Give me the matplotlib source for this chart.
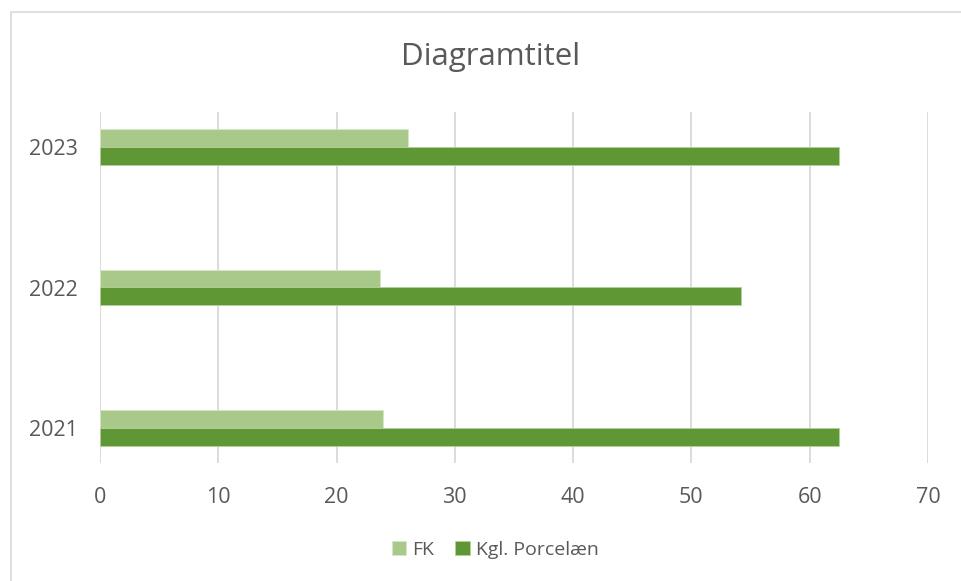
import matplotlib.pyplot as plt
import matplotlib.patches as mpatches
import numpy as np

# data
aar = ["2021", "2022", "2023"]
fk = [23.9, 23.7, 26.0]
kgl = [62.5, 54.2, 62.5]
x_ticks = [0, 10, 20, 30, 40, 50, 60, 70]

lys_groen = "#A9C98B"
moerk_groen = "#5E9733"
tekst_farve = "#595959"

plt.rcParams['font.family'] = ['Open Sans', 'DejaVu Sans']

fig = plt.figure(figsize=(9.62, 5.81), dpi=100)
W, H = 962, 581

# ramme rundt om diagrammet (kun venstre og top synlig)
fig.patches.append(mpatches.Rectangle((11 / W, -0.2), 1.2, 1.2 - 12 / H, transform=fig.transFigure,
                                      fill=False, edgecolor="#D9D9D9", linewidth=1.2))

ax = fig.add_axes([100 / W, 1 - 463 / H, (928 - 100) / W, (463 - 112) / H])

y = np.arange(len(aar))
h = 0.127
ax.barh(y + h / 2, fk, height=h, color=lys_groen, edgecolor="#D6E6C8", linewidth=0.6, label="FK", zorder=3)
ax.barh(y - h / 2, kgl, height=h, color=moerk_groen, edgecolor="#B5D19A", linewidth=0.6, label="Kgl. Porcelæn", zorder=3)

ax.set_xlim(0, 70)
ax.set_ylim(-0.25, 2.25)
ax.set_xticks(x_ticks)
ax.set_yticks(y)
ax.set_yticklabels(aar)
ax.grid(axis="x", color="#D9D9D9", linewidth=1.3, zorder=0)
ax.grid(axis="y", visible=False)
for s in ax.spines.values():
    s.set_visible(False)
ax.tick_params(axis="both", length=0, labelsize=15.5, colors=tekst_farve, labelcolor=tekst_farve)
ax.tick_params(axis="x", pad=17)
ax.tick_params(axis="y", pad=16)

fig.text(491 / W, 1 - 57 / H, "Diagramtitel", ha="center", va="center", fontsize=22.5, color=tekst_farve)

fig.legend(loc="center", bbox_to_anchor=(495 / W, 1 - 550 / H), ncol=2, frameon=False,
           fontsize=14, handlelength=0.75, handleheight=0.75, handletextpad=0.3, columnspacing=1.1,
           labelcolor=tekst_farve)

fig.savefig("out.png", dpi=100)
